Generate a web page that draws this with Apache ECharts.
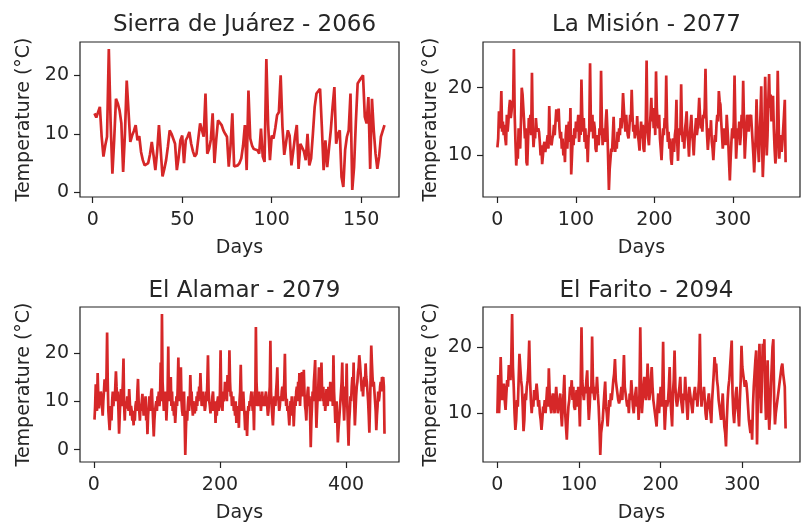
<!DOCTYPE html>
<html>
<head>
<meta charset="utf-8">
<script src="https://cdn.jsdelivr.net/npm/echarts@6/dist/echarts.min.js"></script>
<style>
  html, body { margin: 0; padding: 0; background: #fff; }
  #chart { width: 805px; height: 524px; }
</style>
</head>
<body>
<div id="chart"></div>
<script>
// ---------------- DATA ----------------
const panelTitles = ['Sierra de Juárez - 2066', 'La Misión - 2077', 'El Alamar - 2079', 'El Farito - 2094'];
const firstDay = [1, 0, 1, 0];
const xTickValues = [[0, 50, 100, 150], [0, 100, 200, 300], [0, 200, 400], [0, 100, 200, 300]];
const yTickValues = [[0, 10, 20], [10, 20], [0, 10, 20], [10, 20]];
const xAxisName = 'Days';
const yAxisName = 'Temperature (°C)';

const sierraTemps = [
  13.5, 12.8, 12.6, 14.6, 9.5, 6.1, 8.0, 9.5, 24.5, 12.0,
  3.2, 9.0, 16.0, 15.2, 14.0, 11.8, 3.5, 10.0, 19.1, 18.9,
  8.6, 9.7, 10.5, 11.5, 8.9, 9.6, 6.9, 5.5, 4.6, 4.4,
  5.0, 6.5, 8.6, 6.3, 3.8, 7.0, 11.5, 11.2, 2.7, 4.0,
  5.5, 7.8, 10.6, 10.0, 9.7, 8.3, 3.8, 6.0, 8.9, 9.7,
  5.0, 8.9, 9.5, 10.3, 8.3, 7.0, 6.1, 6.6, 6.4, 11.8,
  12.0, 9.5, 16.9, 6.6, 7.4, 9.0, 13.5, 5.0, 9.0, 12.3,
  12.6, 11.5, 10.6, 10.0, 9.5, 4.4, 8.0, 13.5, 4.4, 4.5,
  4.6, 5.0, 5.8, 8.0, 11.5, 3.8, 17.4, 9.2, 8.0, 7.4,
  7.2, 7.2, 6.6, 10.9, 6.1, 5.2, 22.8, 11.5, 5.5, 9.7,
  9.2, 11.0, 13.2, 13.7, 20.0, 11.2, 6.4, 8.5, 10.6, 9.7,
  4.6, 7.0, 9.5, 11.5, 4.0, 8.3, 8.0, 7.0, 5.5, 10.0,
  4.6, 5.8, 10.0, 14.6, 16.9, 17.2, 17.7, 11.2, 3.8, 8.9,
  4.3, 7.5, 10.6, 14.6, 18.0, 8.3, 10.0, 10.6, 2.6, 0.9,
  7.2, 9.5, 10.6, 16.9, 0.4, 4.3, 12.0, 18.6, 19.1, 19.4,
  20.0, 12.9, 11.8, 16.3, 4.0, 16.0, 10.6, 6.6, 4.0, 6.1,
  9.5, 10.5, 11.5
];

const misionTemps = [
  11.2, 12.5, 16.5, 14, 15.5, 19.5, 13.5, 15, 13, 14.5,
  12.5, 11.5, 16, 13.5, 15, 17, 18.2, 15.5, 16.5, 18,
  17.5, 25.7, 16, 12, 8.5, 10.5, 9.5, 14, 13, 11,
  15, 20, 19, 17, 15, 12.5, 14, 9, 8.5, 12,
  15.5, 14.5, 16, 13, 22.2, 14, 11.2, 13, 12.5, 15.5,
  14, 13.5, 14, 13.5, 12, 10, 11.5, 8.7, 10, 11.5,
  12, 10.5, 11.5, 12, 13, 11, 17.3, 13, 12, 11.5,
  12.5, 13, 14.5, 13, 15, 16.8, 15, 16, 16.9, 14,
  12.5, 13.5, 11, 12.5, 10, 11.5, 9, 13, 14.5, 11,
  13.5, 15, 12, 17, 7.2, 10, 13, 11.5, 14, 12.5,
  15, 13.5, 14.5, 16, 12, 14, 13, 21.2, 16, 13.5,
  15.5, 12, 14, 11, 13, 9, 12.5, 14, 23.6, 15,
  13.5, 16, 12.5, 15, 14, 11, 10.5, 13, 12, 11.5,
  14, 13, 22.5, 15, 11.5, 13, 14, 12, 15, 16.8,
  14, 9.5, 4.9, 8, 9.5, 11, 10.5, 13, 15.7, 12,
  10.5, 12, 11, 13.5, 12, 14, 13, 15.5, 14, 16,
  19.2, 17, 15, 13.5, 16, 14, 13, 12.5, 14, 16,
  15, 19.7, 16, 13.5, 14.5, 12.5, 14, 13, 15.8, 13,
  12, 10.7, 13, 15, 12.5, 14.5, 11, 10.5, 13.5, 15,
  24, 14, 12.5, 11.5, 14, 16, 18.5, 15, 17, 14,
  16.5, 13, 22.4, 17, 15, 14, 16, 12.5, 11, 9.3,
  12, 14, 13, 15.5, 14, 21.8, 15, 12, 13.5, 11,
  12.5, 9.5, 8.6, 11, 12.5, 10.5, 13, 14, 18.2, 12,
  9.2, 12.5, 14, 13, 20.5, 14, 12, 13.5, 11, 14,
  15, 16.5, 13, 12, 9.8, 13, 14.5, 16, 13, 12,
  10, 12.5, 14, 15.5, 13, 14, 16, 18.5, 16, 14,
  15, 13.5, 16, 15.5, 17, 22.8, 16, 13, 10.8, 12.5,
  14, 13, 15.2, 12, 11, 9.3, 11.5, 13, 12, 14.5,
  16, 15, 19.5, 18, 17.5, 15, 13, 11, 12.5, 14,
  13, 11.5, 16, 14, 12, 9, 6.3, 9.5, 12, 14,
  12.5, 15, 21.8, 15, 9.5, 12, 14, 13, 15, 11.5,
  13, 16, 14, 21, 15, 9.5, 12, 14, 16, 15,
  13.5, 16, 15, 16, 14, 12, 10, 7.5, 10, 13,
  18.3, 14, 11, 9, 13, 16, 20.2, 12, 6.8, 10,
  14, 21.6, 16, 10, 13, 18, 22, 17, 19, 15,
  17, 18.8, 14, 11, 8.8, 10, 14, 22.5, 16, 9.5,
  12, 13, 10.5, 12, 14, 16, 18.2, 9
];

const alamarTemps = [
  6.2, 9, 13.5, 10, 8, 15.8, 11, 8.5, 10, 9.5,
  12, 11, 9, 7, 10, 12, 14.5, 12, 13, 15,
  24.2, 14, 8, 6, 4, 7, 9, 6, 10, 12,
  9, 11, 10, 13, 16.2, 13, 10, 12, 8, 3.3,
  7, 10, 12.5, 9, 11, 14, 18.8, 9, 6, 10,
  8.5, 9, 11, 9.5, 8, 12.5, 10, 7, 9, 8,
  6, 7.5, 5, 8, 6, 9, 10, 8, 12, 14.6,
  10, 8, 6, 9, 8, 10, 11.5, 9, 7, 10,
  9, 11, 6, 8, 3.2, 7, 9, 11, 8, 10,
  12, 12.6, 9, 6, 2.7, 6, 8, 9, 10, 8,
  11, 10, 12, 9, 11, 18, 10, 28, 14, 11,
  8, 10, 9, 12, 6, 9, 12, 21.3, 10, 13,
  11, 15, 9, 12, 8, 10, 7, 9, 5.5, 8,
  11, 9, 13, 19, 12, 10, 15, 17, 10, 8,
  7, 10, 12, 6, -1.1, 4, 8, 6, 9, 11,
  8, 10, 15.4, 11, 12, 9, 7, 10, 8, 7.5,
  9, 8, 11, 9, 12, 10, 13, 11, 15.8, 12,
  9, 10, 12, 9, 10, 8, 9, 12, 10, 14,
  19.5, 12, 10, 9, 7.5, 10, 8, 11, 12, 9,
  8, 10, 5.5, 9, 7, 10, 11, 8, 9, 12,
  20.5, 11, 9, 8, 12, 10, 11, 14, 12, 13,
  10, 15.4, 13, 12, 20.5, 14, 11, 12, 9, 10,
  11, 8, 9, 7, 10, 5.5, 8, 6, 9, 4.5,
  10, 12, 17.5, 11, 8, 10, 12, 9, 7, 4,
  8, 6, 2.8, 7, 9, 8, 10, 9, 11, 12,
  10, 8, 9, 4, 12, 9, 25.3, 14, 11, 9,
  10, 12, 9, 11, 8, 10, 12, 9, 11, 10,
  9, 11, 12, 10, 9, 7, 8, 11, 13, 22.5,
  12, 9, 7, 5, 8, 11, 10, 9, 12, 14,
  17, 11, 10, 8, 9, 11, 10, 12, 13, 10,
  12, 14, 19.8, 12, 9, 10.5, 8, 9, 7, 5,
  8, 10, 9, 11, 7, 9, 4.8, 8, 11, 9,
  12, 13, 10, 14, 11, 15.8, 9, 12, 14, 16,
  11, 13, 16.5, 12, 9, 8, 6, 10, 12, 13,
  9, 11, 7, 0.5, 6, 9, 12, 10, 14, 16,
  18.5, 10, 4.5, 8, 11, 13, 17, 10, 12, 14,
  18, 12, 10, 13, 9, 11, 8, 10, 12.5, 11,
  9, 13, 12, 10, 14, 11, 10, 12, 9, 19.5,
  12, 9, 5.5, 8, 10, 6, 1.5, 4, 6, 8,
  10, 12, 14, 18, 11, 9, 6, 10, 13, 11,
  17.8, 9, 5, 0.8, 6, 8, 11, 10, 13, 15,
  12, 18, 10, 5, 8, 11, 13, 14, 16, 17,
  19.5, 18, 16, 14, 12, 13, 11, 14, 15, 13,
  17.8, 15, 14, 12, 10, 7, 3.5, 9, 15, 21.5,
  18, 15, 13, 14, 12, 10, 8, 4, 7, 9,
  12, 10, 11, 13, 14, 12, 15, 14, 15, 13,
  3.3
];

const faritoTemps = [
  10, 15.8, 10, 13, 18.5, 14, 12, 13, 14.5, 12,
  10.5, 13, 15, 14, 17.3, 16, 15, 18, 25, 17,
  14, 10, 7.5, 9, 12, 11, 15, 19, 17, 15,
  14, 11, 7.3, 9, 13, 12, 14, 15, 17, 21,
  15, 12, 10, 12, 11, 13.5, 12, 13, 14.5, 13,
  11, 12, 10, 9, 7.5, 9, 11, 10.5, 12, 10,
  12, 14, 11, 16.8, 13, 11, 10, 12, 13, 11.5,
  10, 12, 14, 12, 10, 11, 12, 13, 10, 8,
  11, 13, 15.8, 10, 8, 6, 9, 11, 12, 14,
  13, 15, 12, 14, 11, 10.5, 12, 13.5, 11, 14,
  12, 8, 14, 23, 15, 13, 12, 14, 13, 15,
  16.5, 12, 9, 11, 14, 13, 21.6, 15, 13, 12,
  14, 13, 15.5, 13, 11, 8, 3.7, 7, 8, 9,
  11, 13, 14.8, 11, 10, 8, 10, 12, 11, 13,
  12, 13.5, 15, 16, 18.2, 15, 14, 13, 12, 11.5,
  12, 13, 14, 12, 15, 18.8, 14, 13, 12, 11,
  12, 10, 13, 12, 15, 13, 11, 10, 12, 13,
  14, 11, 12, 9, 13, 23, 14, 10, 12, 14,
  15.5, 13, 12, 14, 17.5, 14, 12, 13, 15, 17,
  14, 12, 11, 10, 9, 8, 11, 13, 10, 12,
  14, 11, 13, 20.8, 12, 7.5, 10, 12, 11, 12,
  14, 17, 12, 10, 8, 13, 15, 19.5, 14, 12,
  11, 12, 13, 14, 15.5, 12, 11, 10, 13, 12,
  15.5, 13, 11, 9, 12, 14, 13, 12, 11, 10,
  12, 13, 14, 12, 13, 11, 13, 15, 22, 14,
  11, 13, 12, 14, 12, 10, 9, 11, 12, 13,
  11, 10, 8.5, 12, 14, 16, 18.5, 17, 17.5, 15,
  14, 12, 11, 10, 9, 11, 13, 10, 8, 7,
  5, 9, 12, 14, 15, 17, 19, 21, 13, 10,
  8.5, 11, 13, 14, 11, 10, 8, 12, 15, 20.2,
  17, 16, 15, 14, 15, 14.5, 13, 11, 9, 8,
  7, 9, 6, 11, 14, 16, 18, 19.5, 5.3, 12,
  16, 20.5, 14, 10, 15, 20.5, 19, 21.2, 13, 9,
  12, 18, 11, 7.5, 10, 14, 17, 20, 21.2, 12,
  8.3, 10, 11, 12, 12, 14, 15, 16, 17, 17.5,
  16, 15, 14, 7.7
];

const allTemps = [sierraTemps, misionTemps, alamarTemps, faritoTemps];

// ---------------- LAYOUT / STYLE ----------------
const FONT = 'DejaVu Sans';
const TEXT = '#262626';
const LINE = '#d62728';
const grids = [
  { left: 80, top: 42, width: 319, height: 155 },
  { left: 483, top: 42, width: 317, height: 155 },
  { left: 80, top: 307, width: 319, height: 156 },
  { left: 483, top: 307, width: 317, height: 156 }
];
const yNameGap = [46, 42, 46, 42];
const titleTops = [9, 9, 275, 275];

function limits(vals) {
  const mn = Math.min(...vals), mx = Math.max(...vals);
  const pad = 0.05 * (mx - mn);
  return [mn - pad, mx + pad];
}

const option = {
  animation: false,
  backgroundColor: '#fff',
  title: [], grid: [], xAxis: [], yAxis: [], series: []
};

allTemps.forEach((temps, i) => {
  const days = temps.map((_, k) => k + firstDay[i]);
  const xl = limits(days);
  const yl = limits(temps);
  const g = grids[i];
  option.grid.push(Object.assign({ show: true, borderColor: '#222', borderWidth: 1.2, backgroundColor: '#fff', containLabel: false }, g));
  option.title.push({
    text: panelTitles[i],
    left: g.left + g.width / 2,
    top: titleTops[i],
    textAlign: 'center',
    textStyle: { fontFamily: FONT, fontSize: 23, fontWeight: 'normal', color: TEXT }
  });
  option.xAxis.push({
    type: 'value', gridIndex: i, min: xl[0], max: xl[1],
    name: xAxisName, nameLocation: 'middle', nameGap: 42,
    nameTextStyle: { fontFamily: FONT, fontSize: 19, color: TEXT },
    axisLine: { show: false, onZero: false },
    axisTick: { show: true, length: 6, lineStyle: { color: '#222', width: 1.2 }, customValues: xTickValues[i] },
    axisLabel: { fontFamily: FONT, fontSize: 19, color: TEXT, margin: 14, customValues: xTickValues[i] },
    splitLine: { show: false }
  });
  option.yAxis.push({
    type: 'value', gridIndex: i, min: yl[0], max: yl[1],
    name: yAxisName, nameLocation: 'middle', nameGap: yNameGap[i], nameRotate: 90,
    nameTextStyle: { fontFamily: FONT, fontSize: 19, color: TEXT },
    axisLine: { show: false, onZero: false },
    axisTick: { show: true, length: 6, lineStyle: { color: '#222', width: 1.2 }, customValues: yTickValues[i] },
    axisLabel: { fontFamily: FONT, fontSize: 19, color: TEXT, margin: 11, customValues: yTickValues[i] },
    splitLine: { show: false }
  });
  option.series.push({
    type: 'line', xAxisIndex: i, yAxisIndex: i,
    data: temps.map((v, k) => [days[k], v]),
    showSymbol: false, symbol: 'none',
    lineStyle: { color: LINE, width: 2.7 },
    clip: true
  });
});

const chart = echarts.init(document.getElementById('chart'), null, { renderer: 'canvas', width: 805, height: 524 });
chart.setOption(option);
</script>
</body>
</html>
